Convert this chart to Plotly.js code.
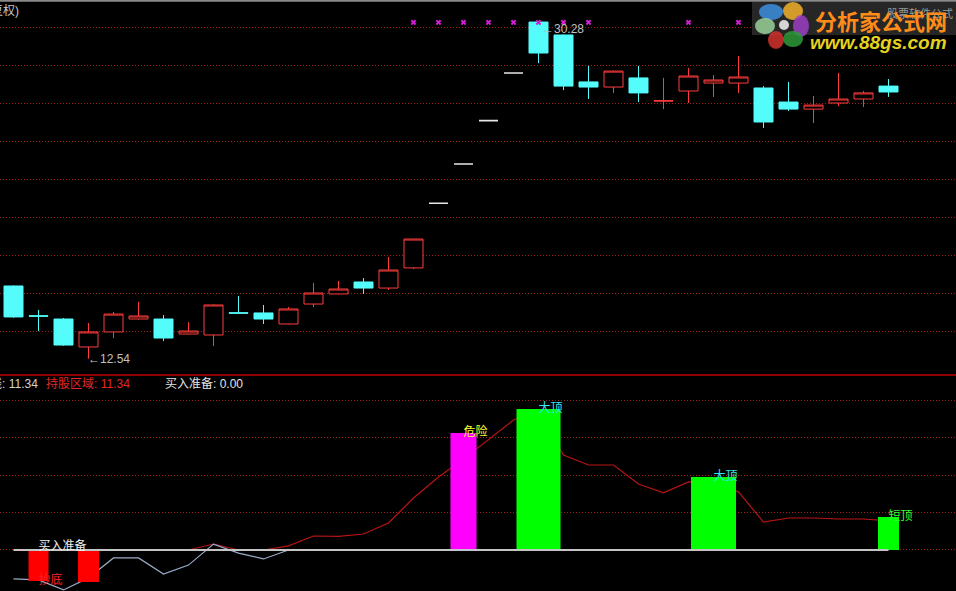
<!DOCTYPE html>
<html>
<head>
<meta charset="utf-8">
<script src="https://cdn.plot.ly/plotly-3.0.1.min.js"></script>
<style>
html,body{margin:0;padding:0;background:#000;overflow:hidden;}
#chart{width:956px;height:591px;}
</style>
</head>
<body>
<div id="chart"></div>
<script>
// ---------------- data ----------------
const days  = [0,1,2,3,4,5,6,7,8,9,10,11,12,13,14,15,16,17,18,19,20,21,22,23,24,25,26,27,28,29,30,31,32,33,34,35];
const open  = [16.37,14.80,14.63,13.16,13.95,14.63,14.63,13.84,13.79,14.96,14.95,14.37,15.42,15.95,16.58,16.26,17.32,20.72,22.79,25.07,27.58,30.26,29.58,27.11,26.84,27.32,26.10,26.63,27.05,27.05,26.79,26.05,25.68,26.00,26.21,26.89];
const high  = [16.40,15.11,14.68,14.42,15.00,15.53,14.84,14.47,15.40,15.84,15.37,15.26,16.53,16.63,16.79,17.89,18.85,20.72,22.79,25.07,27.58,30.28,29.60,27.95,27.70,27.95,27.32,27.84,27.47,28.47,26.89,27.11,26.37,27.58,26.63,27.26];
const low   = [14.70,14.00,13.22,12.54,13.63,14.60,13.47,13.82,13.21,14.90,14.37,14.35,15.26,15.93,15.95,16.16,17.26,20.72,22.79,25.07,27.58,28.10,26.68,26.21,26.53,26.05,25.68,26.00,26.32,26.53,24.68,25.58,24.95,25.84,25.79,26.32];
const close = [14.74,14.78,13.26,13.95,14.89,14.79,13.63,14.00,15.37,14.94,14.63,15.16,16.00,16.21,16.26,17.21,18.84,20.72,22.79,25.07,27.58,28.63,26.89,26.84,27.68,26.53,26.12,27.42,27.21,27.37,25.00,25.68,25.89,26.21,26.53,26.58];
const limitUpDays = [17,18,19,20];
const topSignalDays = [16,17,18,19,20,21,22,23,27,29];

// lower panel
const holdZone  = [0,0,0,0,0,0,0,0,2.34,0,0,1.6,5.47,5.3,6.25,10.55,20.3,28.5,35.5,43.0,50.8,53.9,37.1,33.2,33.2,25.8,22.3,26.6,25.8,22.7,10.9,12.5,12.5,12.1,12.1,11.34];
const trendDays = [0,1,2,3,4,5,6,7,8,9,10,11];
const trendLine = [-11.3,-11.7,-15.6,-10.9,-3.1,-3.1,-9.4,-5.9,2.3,-1.2,-3.5,0];
const buyPrep   = [0,0,0,0,0,0,0,0,0,0,0,0,0,0,0,0,0,0,0,0,0,0,0,0,0,0,0,0,0,0,0,0,0,0,0,0];
const barDays   = [1,3,18,21,28,35];
const barValues = [-12.1,-12.5,45.7,55.1,28.5,12.9];
const signalDays   = [1,18,21,28,35];
const signalValues = [-12.1,45.7,55.1,28.5,12.9];
const signalLabels = ['抄底','危险','大顶','大顶','短顶'];
const buyPrepLabelDay = 1;
const buyPrepLabelValue = 1.2;
const legendNames = ['持股线','持股区域','买入准备'];

// ---------------- styles ----------------
const W = 956, H = 591;
const FONT = 'Liberation Sans, "Noto Sans CJK SC", sans-serif';
const barColors  = ['#ff0000','#ff0000','#ff00ff','#00ff00','#00ff00','#00ff00'];
const barWidths  = [0.8,0.84,1.04,1.76,1.8,0.84];
const signalColors = ['#ff2020','#ffff30','#30e8f0','#30e8f0','#30ff30'];
const SIGNAL_LEVEL = 30.24;
const gridColor = '#a02020';
const gridDash = '1px,2px';

const normDays = days.filter(d => !limitUpDays.includes(d));
const pick = (arr, idx) => idx.map(i => arr[i]);

const px = v => v / W;
const py = v => 1 - v / H;

const traces = [
  {
    type: 'candlestick', xaxis: 'x', yaxis: 'y',
    x: normDays,
    open: pick(open, normDays), high: pick(high, normDays),
    low: pick(low, normDays), close: pick(close, normDays),
    increasing: {line: {color: '#ff3c3c', width: 1}, fillcolor: '#000000'},
    decreasing: {line: {color: '#54fcfc', width: 1}, fillcolor: '#54fcfc'},
    whiskerwidth: 0, hoverinfo: 'skip', showlegend: false
  },
  {
    type: 'candlestick', xaxis: 'x', yaxis: 'y',
    x: limitUpDays,
    open: pick(open, limitUpDays), high: pick(high, limitUpDays),
    low: pick(low, limitUpDays), close: pick(close, limitUpDays),
    increasing: {line: {color: '#e8e8e8', width: 1.6}, fillcolor: '#e8e8e8'},
    decreasing: {line: {color: '#e8e8e8', width: 1.6}, fillcolor: '#e8e8e8'},
    whiskerwidth: 0, hoverinfo: 'skip', showlegend: false
  },
  {
    type: 'scatter', mode: 'markers', xaxis: 'x', yaxis: 'y',
    x: topSignalDays, y: topSignalDays.map(() => SIGNAL_LEVEL),
    marker: {symbol: 'x', size: 5, color: '#d21ed2'},
    hoverinfo: 'skip', showlegend: false
  },
  {
    type: 'scatter', mode: 'lines', xaxis: 'x2', yaxis: 'y2',
    x: days, y: holdZone,
    line: {color: '#b81414', width: 1.2},
    hoverinfo: 'skip', showlegend: false
  },
  {
    type: 'scatter', mode: 'lines', xaxis: 'x2', yaxis: 'y2',
    x: trendDays, y: trendLine,
    line: {color: '#9cacc8', width: 1.2},
    hoverinfo: 'skip', showlegend: false
  },
  {
    type: 'bar', xaxis: 'x2', yaxis: 'y3',
    x: barDays, y: barValues, width: barWidths,
    marker: {color: barColors, line: {width: 0}},
    hoverinfo: 'skip', showlegend: false
  },
  {
    type: 'scatter', mode: 'lines', xaxis: 'x2', yaxis: 'y3',
    x: days, y: buyPrep,
    line: {color: '#c4c4c4', width: 2},
    hoverinfo: 'skip', showlegend: false
  },
  {
    type: 'scatter', mode: 'text', xaxis: 'x2', yaxis: 'y3',
    x: signalDays, y: signalValues, text: signalLabels,
    textposition: 'middle right',
    textfont: {family: FONT, size: 12, color: signalColors},
    hoverinfo: 'skip', showlegend: false, cliponaxis: false
  },
  {
    type: 'scatter', mode: 'text', xaxis: 'x2', yaxis: 'y3',
    x: [buyPrepLabelDay], y: [buyPrepLabelValue], text: [legendNames[2]],
    textposition: 'middle right',
    textfont: {family: FONT, size: 12, color: '#f0f0f0'},
    hoverinfo: 'skip', showlegend: false, cliponaxis: false
  }
];

const xRange = [-0.54, 37.7];
const topRange = [11.684, 31.421];
const botRange = [-16.02, 67.97];
const botStep = 14.648;

const minLow = Math.min(...low), minLowDay = low.indexOf(minLow);
const maxHigh = Math.max(...high), maxHighDay = high.indexOf(maxHigh);
const lastHold = holdZone[holdZone.length - 1];
const lastBuy = buyPrep[buyPrep.length - 1];

const petals = [
  {cx: 771, cy: 12, rx: 12, ry: 8, c: '#3d8fe0'},
  {cx: 793, cy: 11, rx: 10, ry: 9, c: '#f2b02a'},
  {cx: 801, cy: 26, rx: 8, ry: 11, c: '#9b3fc4'},
  {cx: 793, cy: 39, rx: 10, ry: 8, c: '#2f9a3a'},
  {cx: 776, cy: 40, rx: 8, ry: 9, c: '#d2322d'},
  {cx: 765, cy: 26, rx: 10, ry: 8, c: '#9ad29a'},
  {cx: 784, cy: 25, rx: 5, ry: 5, c: '#f4f4f4'}
];

const shapes = [
  {type: 'line', xref: 'paper', yref: 'paper', x0: 0, x1: 1, y0: py(0.8), y1: py(0.8), line: {color: '#8a8a8a', width: 2}},
  {type: 'line', xref: 'paper', yref: 'paper', x0: 0, x1: 1, y0: py(375), y1: py(375), line: {color: '#c00000', width: 1.5}},
  {type: 'rect', xref: 'paper', yref: 'paper', x0: px(752), x1: px(956), y0: py(35), y1: py(2), fillcolor: '#262626', line: {width: 0}, layer: 'above'}
].concat(petals.map(p => ({
  type: 'circle', xref: 'paper', yref: 'paper',
  x0: px(p.cx - p.rx), x1: px(p.cx + p.rx), y0: py(p.cy + p.ry), y1: py(p.cy - p.ry),
  fillcolor: p.c, line: {width: 0}, opacity: 0.85, layer: 'above'
})));

const annotations = [
  {xref: 'paper', yref: 'paper', x: px(21), y: py(10), xanchor: 'right', yanchor: 'middle',
   text: '(前复权)', showarrow: false, font: {family: FONT, size: 12, color: '#c8c8c8'}},
  {xref: 'x', yref: 'y', x: minLowDay, y: minLow, xanchor: 'left', yanchor: 'middle', xshift: -3,
   text: '←' + minLow.toFixed(2), showarrow: false, font: {family: FONT, size: 12, color: '#c0c0c0'}},
  {xref: 'x', yref: 'y', x: maxHighDay, y: maxHigh, xanchor: 'left', yanchor: 'middle', xshift: 1, yshift: -7,
   text: '←' + maxHigh.toFixed(2), showarrow: false, font: {family: FONT, size: 12, color: '#c0c0c0'}},
  {xref: 'paper', yref: 'paper', x: px(39.5), y: py(384), xanchor: 'right', yanchor: 'middle',
   text: legendNames[0] + ': ' + lastHold.toFixed(2), showarrow: false, font: {family: FONT, size: 12, color: '#d4d4d4'}},
  {xref: 'paper', yref: 'paper', x: px(44), y: py(384), xanchor: 'left', yanchor: 'middle',
   text: legendNames[1] + ': ' + lastHold.toFixed(2), showarrow: false, font: {family: FONT, size: 12, color: '#e02828'}},
  {xref: 'paper', yref: 'paper', x: px(163), y: py(384), xanchor: 'left', yanchor: 'middle',
   text: legendNames[2] + ': ' + lastBuy.toFixed(2), showarrow: false, font: {family: FONT, size: 12, color: '#e4e4e4'}},
  {xref: 'paper', yref: 'paper', x: px(920), y: py(13), xanchor: 'center', yanchor: 'middle',
   text: '股票软件公式', showarrow: false, font: {family: FONT, size: 11, color: '#9a9a9a'}},
  {xref: 'paper', yref: 'paper', x: px(881), y: py(20), xanchor: 'center', yanchor: 'middle',
   text: '<b>分析家公式网</b>', showarrow: false, font: {family: '"Noto Sans CJK SC", sans-serif', size: 22, color: '#ff8c1a'}},
  {xref: 'paper', yref: 'paper', x: px(878), y: py(43), xanchor: 'center', yanchor: 'middle',
   text: '<b><i>www.88gs.com</i></b>', showarrow: false, font: {family: 'Liberation Sans, sans-serif', size: 19, color: '#e6d21e'}}
];

const layout = {
  width: W, height: H,
  margin: {l: 0, r: 0, t: 0, b: 0, pad: 0},
  paper_bgcolor: '#000000', plot_bgcolor: '#000000',
  showlegend: false, hovermode: false, dragmode: false,
  boxgap: 0.24, boxgroupgap: 0,
  xaxis: {domain: [0, 1], range: xRange, anchor: 'y', showgrid: false, zeroline: false, showticklabels: false,
          showline: false, ticks: '', rangeslider: {visible: false}, fixedrange: true},
  yaxis: {domain: [1 - 375 / H, 1], range: topRange, anchor: 'x', tickmode: 'array',
          tickvals: [14, 16, 18, 20, 22, 24, 26, 28, 30], showticklabels: false, ticks: '',
          showgrid: true, gridcolor: gridColor, griddash: gridDash, gridwidth: 1, zeroline: false, fixedrange: true},
  xaxis2: {domain: [0, 1], range: xRange, anchor: 'y2', showgrid: false, zeroline: false, showticklabels: false,
           showline: false, ticks: '', fixedrange: true},
  yaxis2: {domain: [0, 1 - 376 / H], range: botRange, anchor: 'x2', tickmode: 'array',
           tickvals: [0, botStep, botStep * 2, botStep * 3, botStep * 4], showticklabels: false, ticks: '',
           showgrid: true, gridcolor: gridColor, griddash: gridDash, gridwidth: 1, zeroline: false, fixedrange: true},
  yaxis3: {overlaying: 'y2', range: botRange, anchor: 'x2', visible: false, showgrid: false, zeroline: false, fixedrange: true},
  shapes: shapes,
  annotations: annotations
};

Plotly.newPlot('chart', traces, layout, {displayModeBar: false, staticPlot: true});
</script>
</body>
</html>
